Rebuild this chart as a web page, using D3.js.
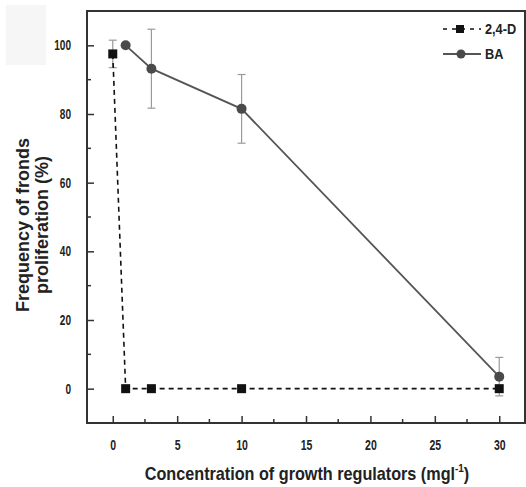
<!DOCTYPE html>
<html>
<head>
<meta charset="utf-8">
<script src="https://cdn.jsdelivr.net/npm/d3@7"></script>
<style>
  html, body { margin: 0; background: #fff; }
  text { font-family: "Liberation Sans Narrow", "Arial Narrow", "Liberation Sans", sans-serif; font-weight: bold; fill: #222; }
</style>
</head>
<body>
<svg id="chart" width="526" height="487"></svg>
<script>
// concentrations (mg/l)
var conc24D = [0, 1, 3, 10, 30];
var val24D  = [97.5, 0, 0, 0, 0];
var err24D  = [4, 0, 0, 0, 0];

var concBA = [1, 3, 10, 30];
var valBA  = [100, 93.2, 81.5, 3.5];
var errBA  = [0, 11.5, 10, 5.6];

var xTicks = [0, 5, 10, 15, 20, 25, 30];
var yTicks = [0, 20, 40, 60, 80, 100];

var svg = d3.select("#chart");
var mLeft = 87, mRight = 525, mTop = 11, mBottom = 423;

var x = d3.scaleLinear().domain([-2, 32]).range([mLeft, mRight]);
var y = d3.scaleLinear().domain([-10, 110]).range([mBottom, mTop]);

// faint patch top-left from the scan
svg.append("rect").attr("x", 6).attr("y", 5).attr("width", 40).attr("height", 60).attr("fill", "#f6f6f6");

// frame
svg.append("rect").attr("x", mLeft).attr("y", mTop).attr("width", mRight - mLeft).attr("height", mBottom - mTop)
  .attr("fill", "none").attr("stroke", "#333").attr("stroke-width", 2);

// minor ticks
var xMinor = d3.range(0, 32, 2.5).filter(function(d){ return xTicks.indexOf(d) < 0; });
var yMinor = d3.range(-10, 111, 10).filter(function(d){ return yTicks.indexOf(d) < 0 && d > -10 && d < 110; });

var xAxis = svg.append("g").attr("transform", "translate(0," + mBottom + ")")
  .call(d3.axisBottom(x).tickValues(xTicks).tickSize(-7).tickPadding(14).tickFormat(d3.format("d")));
var yAxis = svg.append("g").attr("transform", "translate(" + mLeft + ",0)")
  .call(d3.axisLeft(y).tickValues(yTicks).tickSize(-7).tickPadding(14).tickFormat(d3.format("d")));
[xAxis, yAxis].forEach(function(g){
  g.select(".domain").remove();
  g.selectAll(".tick line").attr("stroke", "#333").attr("stroke-width", 1.5);
  g.selectAll(".tick text").attr("font-size", 14).attr("fill", "#222")
    .style("font-family", "'Liberation Sans',sans-serif").style("font-weight", "bold");
});
// condensed look of the original figure font
xAxis.selectAll(".tick text").attr("transform", "scale(0.75,1)").attr("y", 17);
yAxis.selectAll(".tick text").attr("x", 0).attr("transform", "translate(-16,0) scale(0.72,1)");

svg.append("g").selectAll("line").data(xMinor).join("line")
  .attr("x1", function(d){ return x(d); }).attr("x2", function(d){ return x(d); })
  .attr("y1", mBottom).attr("y2", mBottom - 4).attr("stroke", "#333").attr("stroke-width", 1.5);
svg.append("g").selectAll("line").data(yMinor).join("line")
  .attr("y1", function(d){ return y(d); }).attr("y2", function(d){ return y(d); })
  .attr("x1", mLeft).attr("x2", mLeft + 4).attr("stroke", "#333").attr("stroke-width", 1.5);

// error bars
function errBars(cs, vs, es) {
  var g = svg.append("g").attr("stroke", "#9a9a9a").attr("stroke-width", 1.2);
  cs.forEach(function(c, i){
    if (!es[i]) return;
    var cx = x(c), y1 = y(vs[i] + es[i]), y2 = y(vs[i] - es[i]);
    g.append("line").attr("x1", cx).attr("x2", cx).attr("y1", y1).attr("y2", y2);
    g.append("line").attr("x1", cx - 4).attr("x2", cx + 4).attr("y1", y1).attr("y2", y1);
    g.append("line").attr("x1", cx - 4).attr("x2", cx + 4).attr("y1", y2).attr("y2", y2);
  });
}
errBars(concBA, valBA, errBA);
errBars(conc24D, val24D, err24D);

var line = d3.line().x(function(d){ return x(d[0]); }).y(function(d){ return y(d[1]); });

svg.append("path").datum(d3.zip(conc24D, val24D)).attr("d", line)
  .attr("fill", "none").attr("stroke", "#111").attr("stroke-width", 1.6).attr("stroke-dasharray", "5,4");
svg.append("path").datum(d3.zip(concBA, valBA)).attr("d", line)
  .attr("fill", "none").attr("stroke", "#555").attr("stroke-width", 1.8);

svg.append("g").selectAll("rect").data(d3.zip(conc24D, val24D)).join("rect")
  .attr("x", function(d){ return x(d[0]) - 4.5; }).attr("y", function(d){ return y(d[1]) - 4.5; })
  .attr("width", 9).attr("height", 9).attr("fill", "#111");
svg.append("g").selectAll("circle").data(d3.zip(concBA, valBA)).join("circle")
  .attr("cx", function(d){ return x(d[0]); }).attr("cy", function(d){ return y(d[1]); })
  .attr("r", 5).attr("fill", "#4a4a4a");

// legend
var lg = svg.append("g");
lg.append("line").attr("x1", 443).attr("x2", 481).attr("y1", 29).attr("y2", 29)
  .attr("stroke", "#111").attr("stroke-width", 1.6).attr("stroke-dasharray", "4,5");
lg.append("rect").attr("x", 456).attr("y", 25).attr("width", 8).attr("height", 8).attr("fill", "#111");
lg.append("text").attr("transform", "translate(485,34) scale(0.85,1)").attr("font-size", 15).text("2,4-D");
lg.append("line").attr("x1", 443).attr("x2", 481).attr("y1", 54).attr("y2", 54)
  .attr("stroke", "#555").attr("stroke-width", 1.8);
lg.append("circle").attr("cx", 461).attr("cy", 54).attr("r", 4.5).attr("fill", "#4a4a4a");
lg.append("text").attr("transform", "translate(485,59) scale(0.85,1)").attr("font-size", 15).text("BA");

// axis titles
var yt = svg.append("text").attr("transform", "translate(29,225) rotate(-90)")
  .attr("text-anchor", "middle").attr("font-size", 18);
yt.append("tspan").attr("x", 0).attr("dy", 0).text("Frequency of fronds");
yt.append("tspan").attr("x", 0).attr("dy", 19).text("proliferation (%)");

var xt = svg.append("text").attr("transform", "translate(307,480) scale(0.9,1)")
  .attr("text-anchor", "middle").attr("font-size", 18);
xt.append("tspan").text("Concentration of growth regulators (mgl");
xt.append("tspan").attr("font-size", 11).attr("dy", -8).text("-1");
xt.append("tspan").attr("dy", 8).text(")");
</script>
</body>
</html>
